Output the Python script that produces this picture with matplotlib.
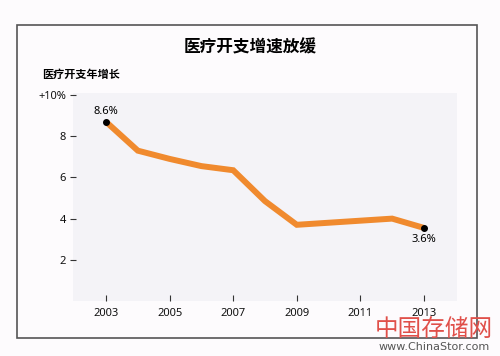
import matplotlib.pyplot as plt
from matplotlib.patches import Rectangle

years = [2003, 2004, 2005, 2006, 2007, 2008, 2009, 2010, 2011, 2012, 2013]
growth = [8.7, 7.3, 6.9, 6.55, 6.35, 4.85, 3.7, 3.8, 3.9, 4.0, 3.55]
x_ticks = [2003, 2005, 2007, 2009, 2011, 2013]
y_ticks = [2, 4, 6, 8, 10]
y_labels = ['2', '4', '6', '8', '+10%']

plt.rcParams['font.family'] = ['Noto Sans', 'Noto Sans CJK SC', 'DejaVu Sans']

fig = plt.figure(figsize=(5.0, 3.56), dpi=100)
fig.patch.set_facecolor('#fdfbfd')

# outer frame
fig.patches.append(Rectangle((17 / 500, 1 - 338 / 356), 460 / 500, 313 / 356,
                             transform=fig.transFigure, fill=False,
                             edgecolor='#555555', linewidth=1.2))

ax = fig.add_axes([73 / 500, 1 - 301 / 356, 384 / 500, 208 / 356])
ax.set_facecolor('#f4f3f7')
for s in ax.spines.values():
    s.set_visible(False)

ax.plot(years, growth, color='#f08a2e', linewidth=4.3, solid_joinstyle='miter',
        solid_capstyle='butt', zorder=2)
ax.plot([years[0], years[-1]], [growth[0], growth[-1]], 'o', color='black',
        markersize=4, zorder=3)

ax.text(years[0], growth[0] + 0.25, '8.6%', ha='center', va='bottom', fontsize=8)
ax.text(years[-1], growth[-1] - 0.3, '3.6%', ha='center', va='top', fontsize=8)

ax.set_xlim(2001.96, 2014.04)
ax.set_ylim(0, 10.1)
ax.set_xticks(x_ticks)
ax.set_yticks(y_ticks)
ax.set_yticklabels(y_labels)
ax.tick_params(axis='both', direction='in', length=4, width=0.8, colors='#333333',
               labelsize=8, labelcolor='#111111')
ax.tick_params(axis='x', pad=5)
ax.tick_params(axis='y', pad=5)
# y ticks sit just left of the shaded area
for t in ax.yaxis.get_major_ticks():
    t.tick1line.set_marker('_')
    t.tick1line.set_markersize(5)

fig.text(0.5, 1 - 47 / 356, '医疗开支增速放缓', ha='center', va='center',
         fontsize=12, fontweight='bold', family=['Noto Sans CJK SC', 'DejaVu Sans'])
fig.text(42 / 500, 1 - 74 / 356, '医疗开支年增长', ha='left', va='center',
         fontsize=8, fontweight='bold', family=['Noto Sans CJK SC', 'DejaVu Sans'])

# watermark
fig.text(434 / 500, 1 - 329 / 356, '中国存储网', ha='center', va='center',
         fontsize=17, color='#e0504a', family=['Noto Sans CJK SC', 'DejaVu Sans'])
fig.text(434 / 500, 1 - 347 / 356, 'www.ChinaStor.com', ha='center', va='center',
         fontsize=8, color='#555555', family='DejaVu Sans')

fig.savefig('out.png', dpi=100, facecolor=fig.get_facecolor())
